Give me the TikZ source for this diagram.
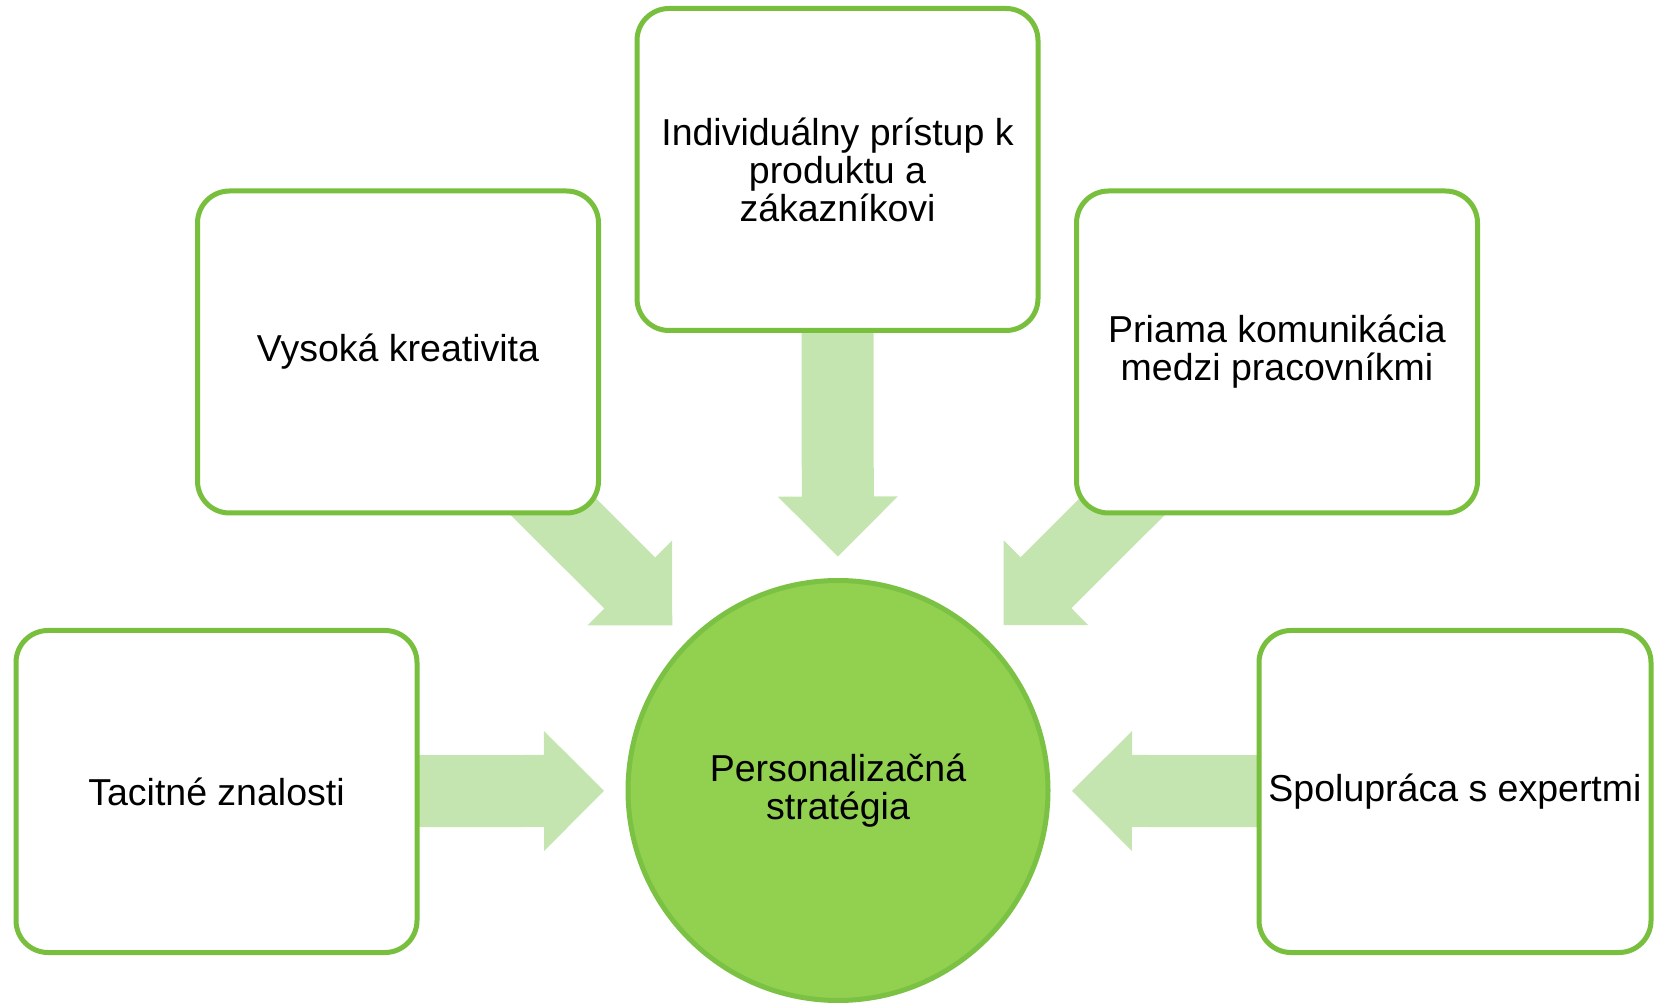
\documentclass[tikz,border=0pt]{standalone}
\usepackage{fontspec}
\setmainfont{Liberation Sans}
\usetikzlibrary{calc,backgrounds}
\definecolor{boxgreen}{HTML}{77BF3D}
\definecolor{hubfill}{HTML}{92D050}
\definecolor{hubline}{HTML}{7BC143}
\definecolor{arrowfill}{HTML}{C4E5B0}
\newcommand\labelfont{\fontsize{18.75pt}{19pt}\selectfont}
\tikzset{
  item/.style={draw=boxgreen, line width=2.5pt, fill=white, rounded corners=16pt,
    minimum width=200.5pt, minimum height=161pt, align=center, inner sep=0pt,
    font=\labelfont},
  hub/.style={circle, draw=hubline, line width=2.5pt, fill=hubfill,
    minimum size=210pt, align=center, inner sep=0pt, font=\labelfont},
  feed/.style={fill=arrowfill}
}
% block arrow from a box towards the hub, its tip just outside the circle
\newcommand\feedarrow[1]{%
  \fill[feed] let \p1 = ($(#1.center)-(hub.center)$), \n1 = {atan2(\y1,\x1)} in
    [shift={(hub.center)}, rotate=\n1]
    (500,36) -- (294,36) -- (294,60) -- (234,0) -- (294,-60) -- (294,-36) -- (500,-36) -- cycle;}
\begin{document}
\begin{tikzpicture}[x=0.5pt, y=-0.5pt]
  \useasboundingbox (0,0) rectangle (1654,1004);
  \node[item] (top)   at (837.5,169.5) {Individuálny prístup k\\produktu a\\zákazníkovi};
  \node[item] (ltop)  at (398,352)     {Vysoká kreativita};
  \node[item] (rtop)  at (1277,352)    {Priama komunikácia\\medzi pracovníkmi};
  \node[item] (lbot)  at (216.5,791.5) {Tacitné znalosti};
  \node[item, minimum width=196pt] (rbot) at (1455,791.5) {Spolupráca s expertmi};
  \node[hub] (hub) at (838,790.5) {Personalizačná\\stratégia};
  \begin{pgfonlayer}{background}
    \feedarrow{top}
    \feedarrow{ltop}
    \feedarrow{rtop}
    \feedarrow{lbot}
    \feedarrow{rbot}
  \end{pgfonlayer}
\end{tikzpicture}
\end{document}
